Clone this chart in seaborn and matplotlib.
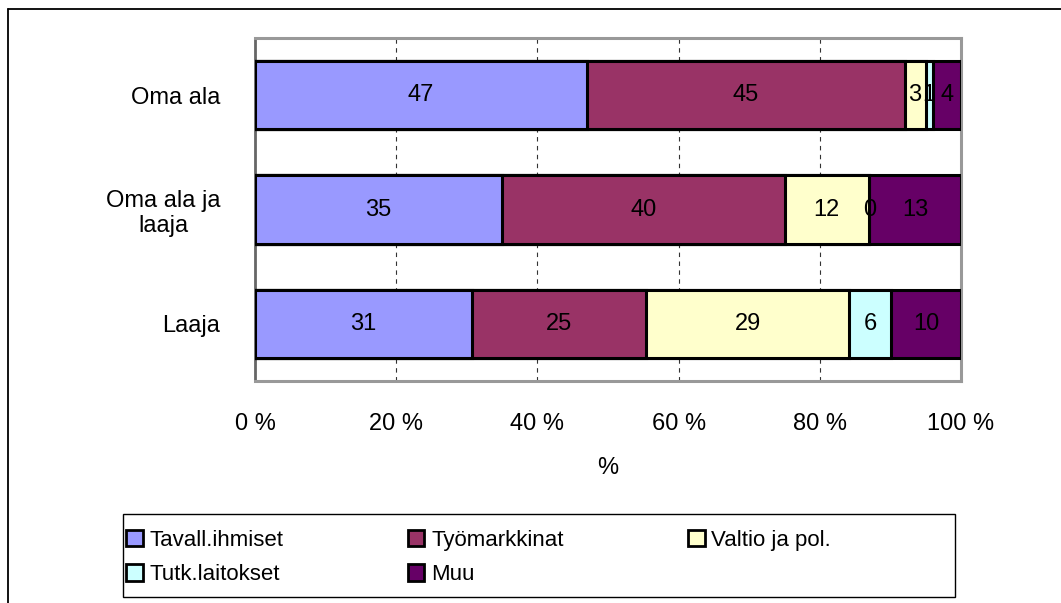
import pandas as pd
import seaborn as sns
import matplotlib.pyplot as plt
from matplotlib.patches import Patch, Rectangle
from matplotlib.lines import Line2D

# Data
kategoriat = ["Oma ala", "Oma ala ja\nlaaja", "Laaja"]
sarjat = ["Tavall.ihmiset", "Työmarkkinat", "Valtio ja pol.", "Tutk.laitokset", "Muu"]
tavall = [47, 35, 31]
tyomarkkinat = [45, 40, 25]
valtio = [3, 12, 29]
tutk = [1, 0, 6]
muu = [4, 13, 10]
x_ticklabels = ["0 %", "20 %", "40 %", "60 %", "80 %", "100 %"]
colors = ["#9999FF", "#993366", "#FFFFCC", "#CCFFFF", "#660066"]

df = pd.DataFrame({"kategoria": kategoriat, sarjat[0]: tavall, sarjat[1]: tyomarkkinat,
                   sarjat[2]: valtio, sarjat[3]: tutk, sarjat[4]: muu})
vals = df[sarjat]
pct = vals.div(vals.sum(axis=1), axis=0) * 100
cum = pct.cumsum(axis=1)

sns.set_style("white")
plt.rcParams['font.family'] = ['Liberation Sans', 'DejaVu Sans']
plt.rcParams['text.color'] = 'black'
plt.rcParams['axes.labelcolor'] = 'black'
plt.rcParams['xtick.color'] = 'black'
plt.rcParams['ytick.color'] = 'black'

W, H = 1061, 603
fig = plt.figure(figsize=(W / 100, H / 100), dpi=100)
ax = fig.add_axes([255 / W, 1 - 381 / H, (961 - 255) / W, (381 - 38) / H])

# stacked bars: biggest cumulative first, then smaller ones over it
for i in range(len(sarjat) - 1, -1, -1):
    plot_df = pd.DataFrame({"kategoria": kategoriat, "arvo": cum[sarjat[i]].values})
    sns.barplot(data=plot_df, x="arvo", y="kategoria", orient="h", color=colors[i],
                saturation=1, edgecolor="black", linewidth=2.2, width=0.6,
                errorbar=None, ax=ax, zorder=3)

# value labels in the middle of each segment
for r in range(len(kategoriat)):
    left = 0
    for s in sarjat:
        w = pct.loc[r, s]
        ax.text(left + w / 2, r, str(vals.loc[r, s]), ha='center', va='center',
                fontsize=17, color='black', zorder=5)
        left += w

ax.set_xlim(0, 100)
ax.set_ylim(2.5, -0.5)
ax.set_xticks([0, 20, 40, 60, 80, 100])
ax.set_xticklabels(x_ticklabels, fontsize=17)
ax.set_yticks([0, 1, 2])
ax.set_yticklabels(kategoriat, fontsize=17, ha='right', multialignment='center')
ax.set_yticks([-0.5, 0.5, 1.5, 2.5], minor=True)
ax.tick_params(axis='y', which='major', length=0, pad=25)
ax.tick_params(axis='y', which='minor', direction='inout', length=16, width=1, color='black')
ax.tick_params(axis='x', which='major', direction='inout', length=12, width=1, color='black', pad=17)
ax.set_xlabel("%", fontsize=17, labelpad=16)
ax.set_ylabel("")

ax.set_axisbelow(True)
ax.xaxis.grid(True, linestyle=(0, (4, 4)), color='#333333', linewidth=0.8)
ax.yaxis.grid(False)

for side in ['top', 'right', 'bottom']:
    ax.spines[side].set_color('#999999')
    ax.spines[side].set_linewidth(2.2)
ax.spines['left'].set_color('#666666')
ax.spines['left'].set_linewidth(2)

# legend (row-wise order in 3 columns), frame drawn separately
handles = [Patch(facecolor=c, edgecolor='black', linewidth=2) for c in colors]
order = [0, 3, 1, 4, 2]
leg = fig.legend([handles[i] for i in order], [sarjat[i] for i in order],
                 loc='upper left', bbox_to_anchor=(110 / W, 1 - 514 / H),
                 bbox_transform=fig.transFigure, ncol=3, fontsize=16,
                 frameon=False, handlelength=0.75, handleheight=0.75,
                 handletextpad=0.3, borderpad=0.72, labelspacing=0.6,
                 columnspacing=5.6, borderaxespad=0)
fig.add_artist(Rectangle((123 / W, 1 - 597 / H), (955 - 123) / W, (597 - 514) / H,
                         transform=fig.transFigure, fill=False, edgecolor='black', linewidth=1))

# outer chart border
fig.add_artist(Line2D([8 / W, 1.0], [1 - 9 / H, 1 - 9 / H], transform=fig.transFigure,
                      color='black', linewidth=1.3))
fig.add_artist(Line2D([8 / W, 8 / W], [0, 1 - 9 / H], transform=fig.transFigure,
                      color='black', linewidth=1.3))

fig.savefig("out.png", dpi=100)
